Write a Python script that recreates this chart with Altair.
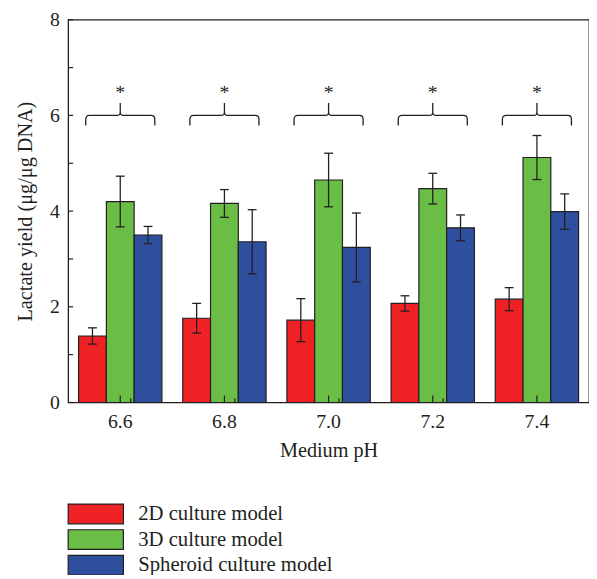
import altair as alt
import pandas as pd

ph = ["6.6", "6.8", "7.0", "7.2", "7.4"]
series = ["2D culture model", "3D culture model", "Spheroid culture model"]
v2d = [1.39, 1.76, 1.72, 2.07, 2.16]
e2d = [0.17, 0.31, 0.45, 0.16, 0.24]
v3d = [4.20, 4.16, 4.65, 4.47, 5.12]
e3d = [0.53, 0.29, 0.56, 0.32, 0.46]
vsp = [3.50, 3.36, 3.24, 3.65, 3.99]
esp = [0.18, 0.67, 0.72, 0.27, 0.37]
colors = ["#EE2224", "#6ABD45", "#2E4F9E"]
y_ticks = [0, 1, 2, 3, 4, 5, 6, 7, 8]
y_labels = [0, 2, 4, 6, 8]
brace_y = 6.0
star_y = 6.47

W, H = 528, 388
FONT = "Liberation Serif"
INK = "#231F20"

rows = []
for s, vals, errs in zip(series, [v2d, v3d, vsp], [e2d, e3d, esp]):
    for p, v, e in zip(ph, vals, errs):
        rows.append({"ph": p, "series": s, "value": v, "lo": v - e, "hi": v + e})
df = pd.DataFrame(rows)
grp = pd.DataFrame({"ph": ph, "brace": [brace_y] * 5, "star": [star_y] * 5})
yt = pd.DataFrame({"t": y_ticks})

xscale = alt.Scale(domain=ph, paddingInner=0.2, paddingOuter=0.1)
xenc = alt.X("ph:N", scale=xscale, sort=ph,
             axis=alt.Axis(title="Medium pH", labelAngle=0, tickSize=0, domain=False,
                           labelPadding=9, titlePadding=10, labelFontSize=20,
                           titleFontSize=20.5, titleFontWeight="normal",
                           labelFont=FONT, titleFont=FONT, labelColor=INK, titleColor=INK))
yscale = alt.Scale(domain=[0, 8], nice=False)
yenc = alt.Y("value:Q", scale=yscale,
             axis=alt.Axis(title="Lactate yield (μg/μg DNA)", values=y_labels, tickSize=0,
                           domain=False, grid=False, labelPadding=9, titlePadding=14,
                           labelFontSize=20, titleFontSize=20.5, titleFontWeight="normal",
                           labelFont=FONT, titleFont=FONT, labelColor=INK, titleColor=INK))
xoff = alt.XOffset("series:N", sort=series, scale=alt.Scale(paddingInner=0, paddingOuter=0))

bars = alt.Chart(df).mark_bar(stroke=INK, strokeWidth=1.2).encode(
    x=xenc, xOffset=xoff, y=yenc,
    fill=alt.Fill("series:N", sort=series,
                  scale=alt.Scale(domain=series, range=colors),
                  legend=alt.Legend(title=None, orient="none", legendX=17, legendY=490,
                                    symbolType="M-2.8,-1H2.8V1H-2.8Z", symbolSize=400,
                                    symbolStrokeColor=INK, symbolStrokeWidth=1.2,
                                    labelOffset=32, rowPadding=0, labelFontSize=21,
                                    labelLimit=400, labelFont=FONT, labelColor=INK,
                                    padding=0, symbolOpacity=1)),
)
err = alt.Chart(df).mark_rule(color=INK, strokeWidth=1.3).encode(
    x="ph:N", xOffset=xoff, y="lo:Q", y2="hi:Q")
cap_hi = alt.Chart(df).mark_tick(color=INK, size=9, thickness=1.3, opacity=1).encode(
    x="ph:N", xOffset=xoff, y="hi:Q")
cap_lo = alt.Chart(df).mark_tick(color=INK, size=9, thickness=1.3, opacity=1).encode(
    x="ph:N", xOffset=xoff, y="lo:Q")

brace_path = ("M-1,0.29 L-1,0.11 Q-1,0 -0.89,0 L-0.09,0 Q0,0 0,-0.09 L0,-0.36 "
              "M0,-0.09 Q0,0 0.09,0 L0.89,0 Q1,0 1,0.11 L1,0.29")
braces = alt.Chart(grp).mark_point(shape=brace_path, size=4900, filled=False, stroke=INK,
                                   strokeWidth=1.3, opacity=1).encode(
    x="ph:N", y="brace:Q")
stars = alt.Chart(grp).mark_text(text="*", font=FONT, fontSize=20, color=INK,
                                 baseline="alphabetic", dy=6).encode(
    x="ph:N", y="star:Q")

ytick = alt.Chart(yt).mark_rule(color=INK, strokeWidth=1.2).encode(
    y="t:Q", x=alt.value(0), x2=alt.value(5))
xtick_c = alt.Chart(grp).mark_rule(color=INK, strokeWidth=1.2).encode(
    x="ph:N", y=alt.value(H), y2=alt.value(H - 7))
xtick_b = alt.Chart(grp.iloc[1:]).mark_rule(color=INK, strokeWidth=1.2).encode(
    x="ph:N", xOffset=alt.value(-W / 10), y=alt.value(H), y2=alt.value(H - 4))

chart = alt.layer(bars, err, cap_hi, cap_lo, braces, stars, ytick, xtick_c, xtick_b).properties(
    width=W, height=H,
    autosize=alt.AutoSizeParams(type="none"),
    padding={"left": 61, "top": 8, "right": 0, "bottom": 171},
    background="white",
).configure_view(stroke=INK, strokeWidth=1.3)

chart.save("out.html", embed_options={"renderer": "svg", "actions": False})
